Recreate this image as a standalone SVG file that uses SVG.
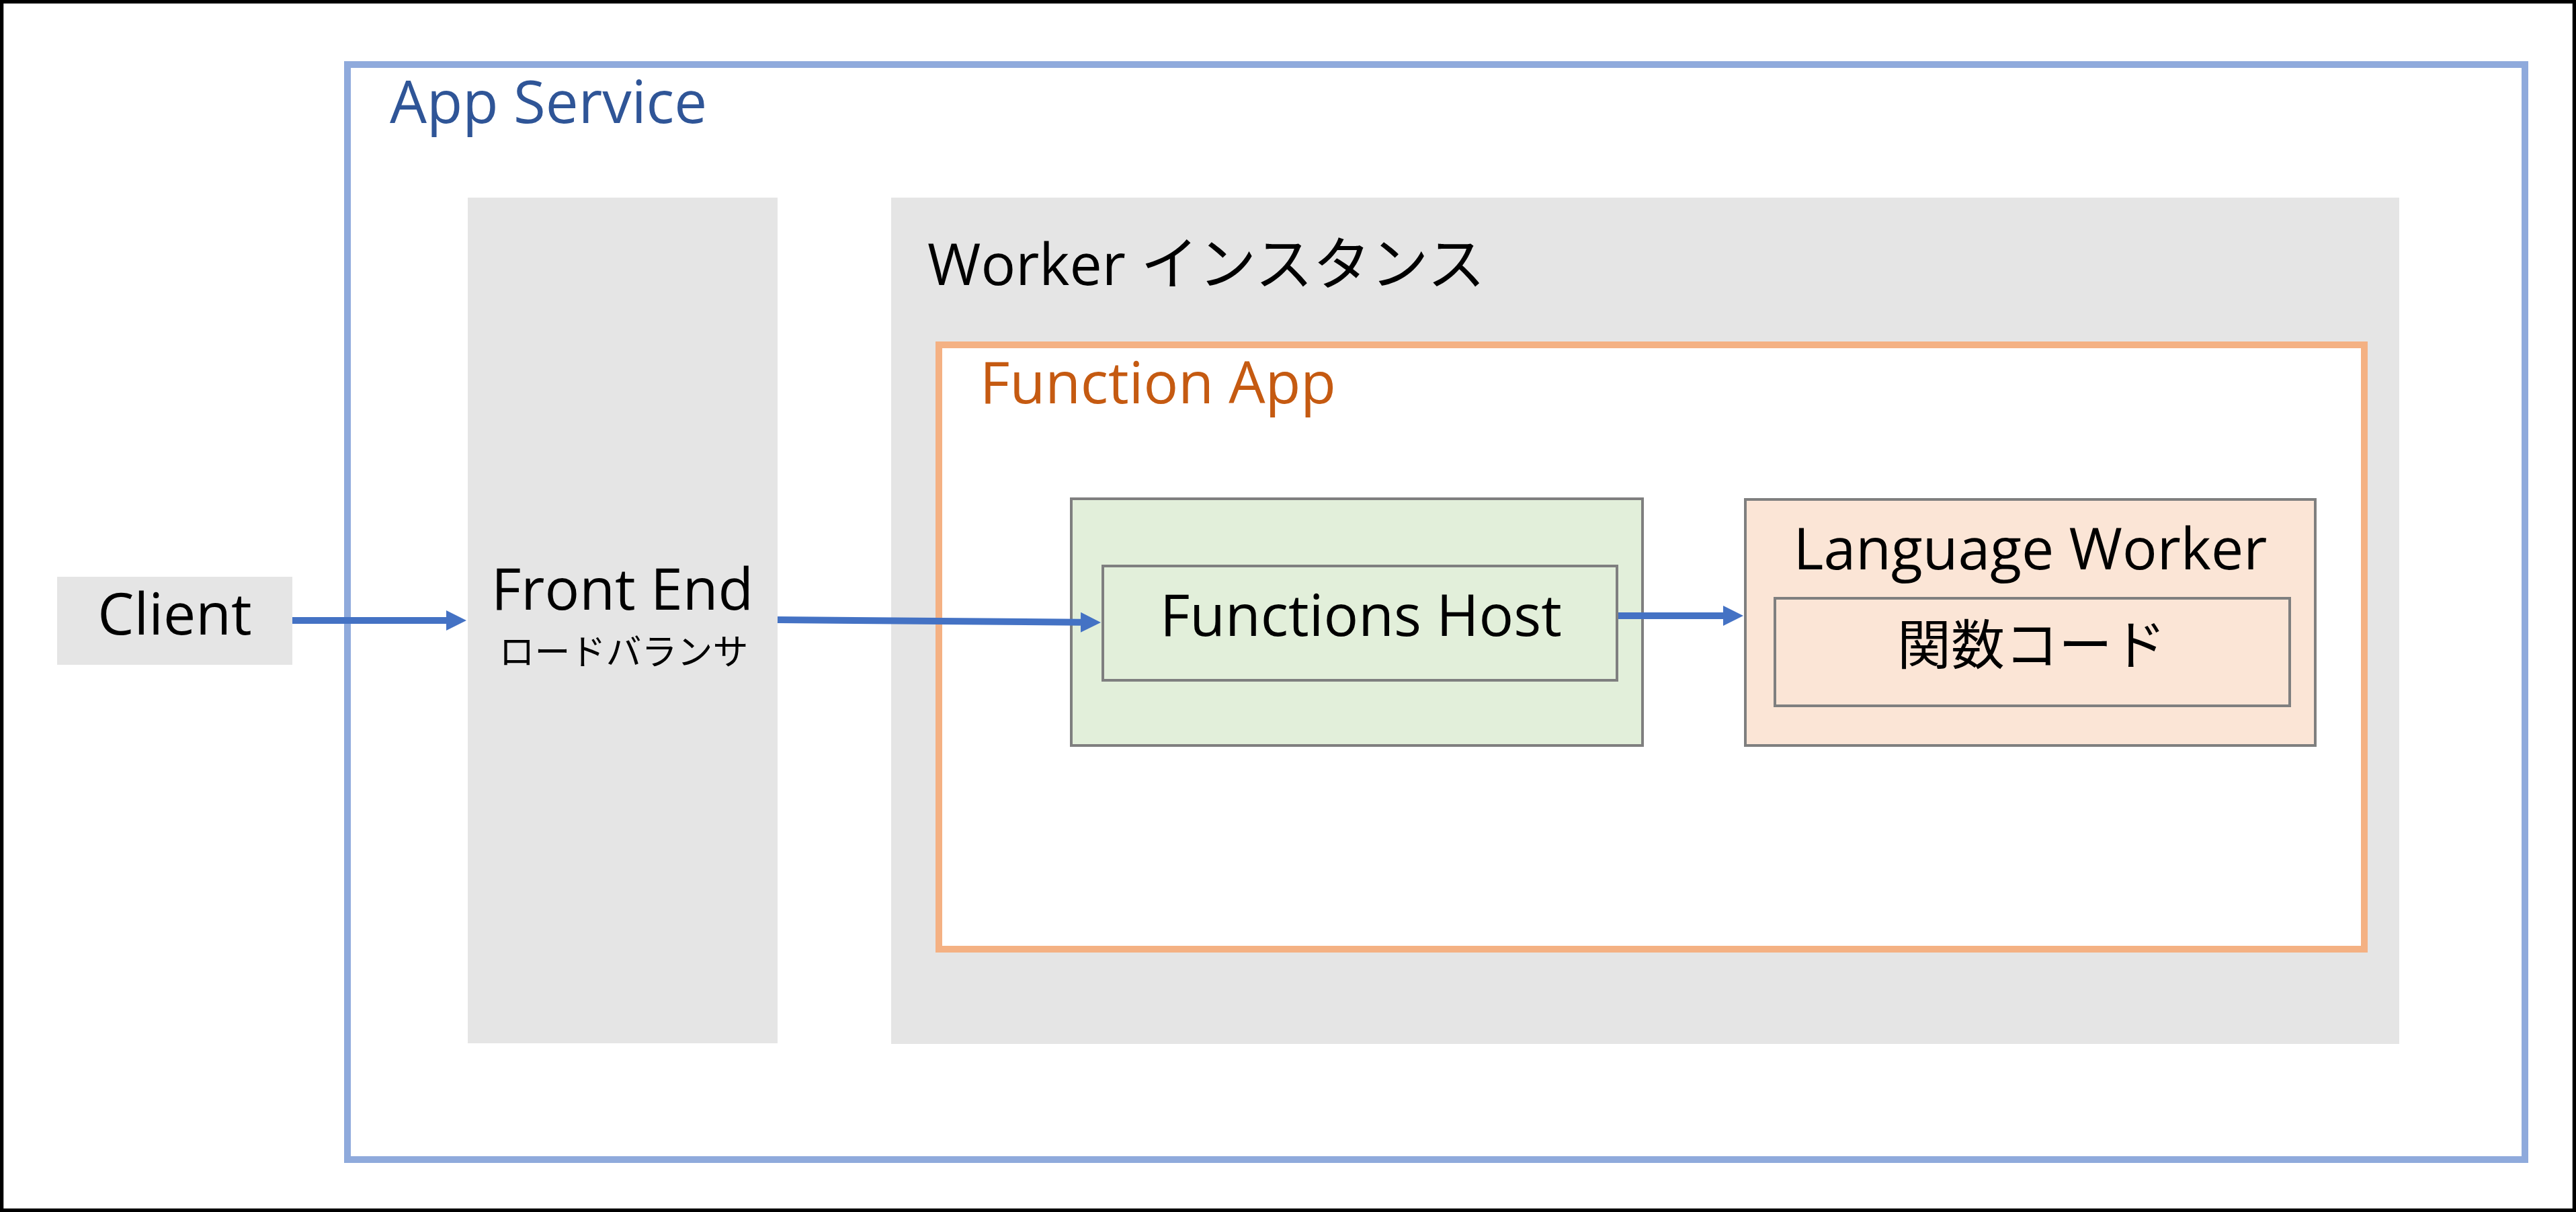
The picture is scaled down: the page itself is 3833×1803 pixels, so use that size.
<svg xmlns="http://www.w3.org/2000/svg" width="3833" height="1803" viewBox="0 0 3833 1803">
<defs>
<style>
text{font-family:"Open Sans","Noto Sans CJK JP",sans-serif;}
.lbl{font-size:86px;fill:#000;}
.gray{fill:#E5E5E5;}
.box{stroke:#7F7F7F;stroke-width:4;}
.conn{stroke:#4472C4;stroke-width:10;fill:none;}
</style>
<marker id="ah" markerUnits="userSpaceOnUse" markerWidth="30" markerHeight="30" refX="0" refY="15" orient="auto">
<path d="M0,0 L30,15 L0,30 z" fill="#4472C4"/>
</marker>
</defs>
<rect x="0" y="0" width="3833" height="1803" fill="#fff"/>
<rect x="2.5" y="2.5" width="3828" height="1798" fill="none" stroke="#000" stroke-width="5.5"/>
<g id="app-service">
<rect x="517" y="96" width="3240" height="1629" fill="#fff" stroke="#8FAADC" stroke-width="10"/>
<text x="580" y="183" font-size="87" fill="#2F5597">App Service</text>
</g>
<g id="client">
<rect class="gray" x="85" y="858" width="350" height="131"/>
<text class="lbl" x="260" y="944" text-anchor="middle">Client</text>
</g>
<g id="front-end">
<rect class="gray" x="696" y="294" width="461" height="1258"/>
<text class="lbl" x="926" y="907" text-anchor="middle">Front End</text>
<text x="928" y="989" font-size="53" text-anchor="middle" fill="#000">ロードバランサ</text>
</g>
<g id="worker-instance">
<rect class="gray" x="1326" y="294" width="2244" height="1259"/>
<text class="lbl" x="1380" y="424" font-size="85">Worker インスタンス</text>
</g>
<g id="function-app">
<rect x="1397" y="513" width="2121" height="899" fill="#fff" stroke="#F4B183" stroke-width="10"/>
<text x="1458" y="600" font-size="86" fill="#C55A11">Function App</text>
</g>
<g id="functions-host-container">
<rect class="box" x="1594" y="742" width="850" height="367" fill="#E2EFDA"/>
</g>
<g id="functions-host">
<rect class="box" x="1641" y="842" width="765" height="170" fill="#E2EFDA"/>
<text class="lbl" x="2025" y="946" text-anchor="middle">Functions Host</text>
</g>
<g id="language-worker">
<rect class="box" x="2597" y="743" width="848" height="366" fill="#FBE5D6"/>
<text class="lbl" x="3021" y="847" text-anchor="middle">Language Worker</text>
</g>
<g id="function-code">
<rect class="box" x="2641" y="890" width="766" height="160" fill="#FBE5D6"/>
<text x="3023" y="988" font-size="80" text-anchor="middle" fill="#000">関数コード</text>
</g>
<g id="connectors">
<line class="conn" x1="435" y1="923" x2="664" y2="923" marker-end="url(#ah)"/>
<line class="conn" x1="1157" y1="922" x2="1608" y2="925.75" marker-end="url(#ah)"/>
<line class="conn" x1="2408" y1="916" x2="2564" y2="916" marker-end="url(#ah)"/>
</g>
</svg>
